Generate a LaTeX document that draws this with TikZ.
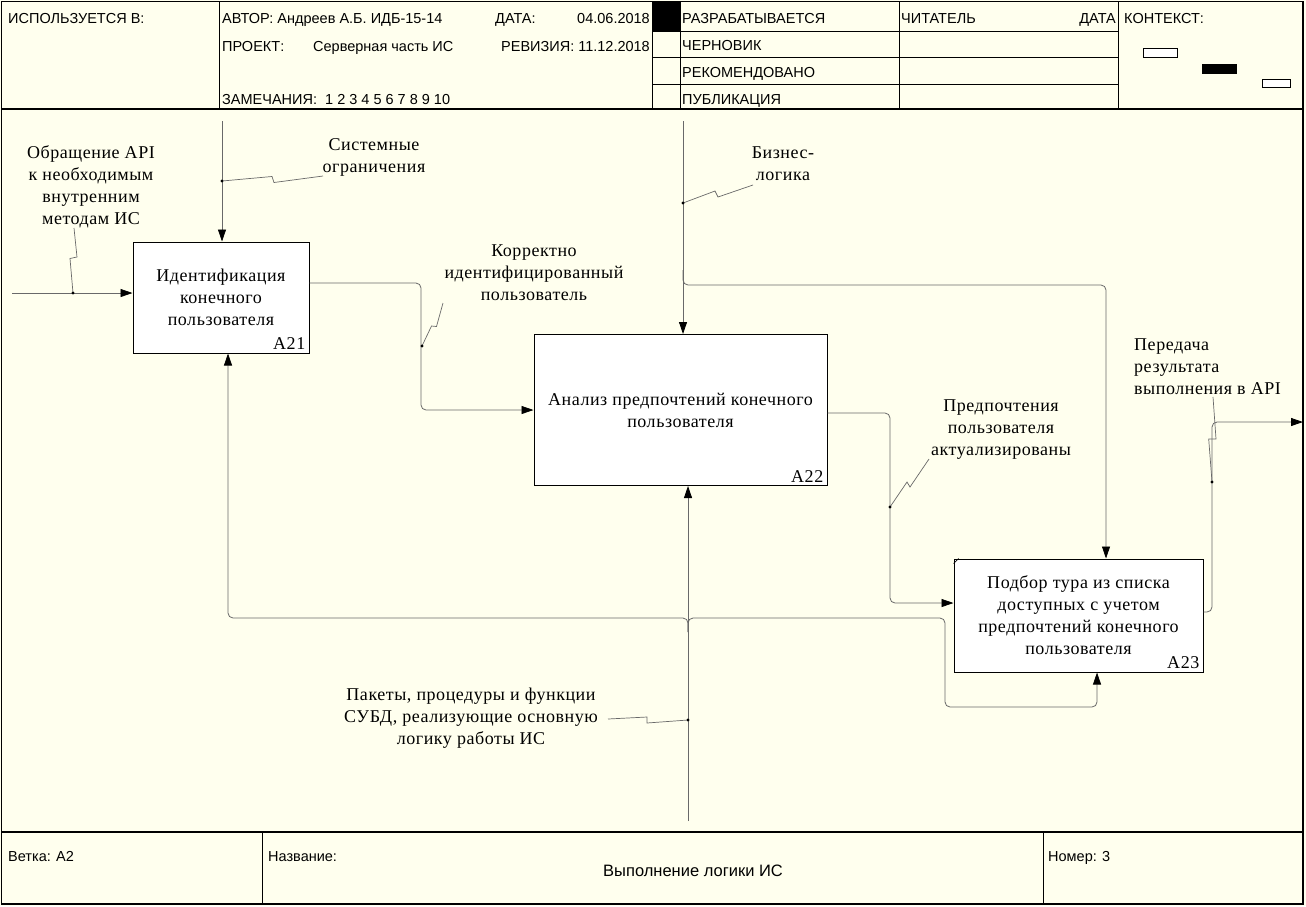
\documentclass[tikz,border=0pt]{standalone}
\usepackage{fontspec}
\setmainfont{Liberation Serif}
\newfontfamily\hdrfont{Liberation Sans}
\newfontfamily\lblfam[LetterSpace=3]{Liberation Serif}
\usetikzlibrary{arrows.meta,calc}

\definecolor{paper}{RGB}{255,255,238}
\definecolor{wire}{RGB}{105,105,105}

\newcommand{\lblfont}{\lblfam\fontsize{18}{22}\selectfont}
\newcommand{\hdrsize}{\hdrfont\fontsize{14.5}{16}\selectfont}

\tikzset{
  frameline/.style={draw=black, line width=1.4pt},
  cellline/.style={draw=black, line width=0.9pt},
  hdr/.style={font=\hdrsize, inner sep=0pt, anchor=base west},
  fnbox/.style={draw=black, fill=white, line width=1pt, inner sep=0pt,
                align=center, font=\lblfont},
  boxnum/.style={font=\lblfont, inner sep=0pt, anchor=base east},
  lbl/.style={align=center, font=\lblfont, inner sep=0pt},
  wireline/.style={draw=wire, line width=0.8pt, rounded corners=5pt},
  arr/.style={wireline, -{Triangle[length=12pt,width=8pt,color=black]}},
  squig/.style={draw=wire, line width=0.7pt},
  jdot/.style={circle, fill=black, inner sep=0pt, minimum size=3.2pt},
  ctxbox/.style={draw=black, line width=0.8pt},
}

\begin{document}
\begin{tikzpicture}[x=1pt, y=-1pt]
\useasboundingbox (0,0) rectangle (1306,906);
\fill[paper] (0,0) rectangle (1306,906);

% ---------- title block ----------
\fill[black] (652,1.5) rectangle (680,31);
\draw[cellline] (219,1.5) -- (219,109);
\draw[cellline] (652,1.5) -- (652,109);
\draw[cellline] (680,1.5) -- (680,109);
\draw[cellline] (899,1.5) -- (899,109);
\draw[cellline] (1118,1.5) -- (1118,109);
\draw[cellline] (652,31) -- (1118,31);
\draw[cellline] (652,57.5) -- (1118,57.5);
\draw[cellline] (652,84) -- (1118,84);
\draw[frameline] (1.5,109) -- (1303,109);

\node[hdr] (usedin) at (8,23) {ИСПОЛЬЗУЕТСЯ В:};
\node[hdr] (author) at (222,23) {АВТОР: Андреев А.Б. ИДБ-15-14};
\node[hdr] (datek) at (495,23) {ДАТА:};
\node[hdr, anchor=base east] (datev) at (650,23) {04.06.2018};
\node[hdr] (projk) at (222,51) {ПРОЕКТ:};
\node[hdr] (projv) at (313,51) {Серверная часть ИС};
\node[hdr, anchor=base east] (rev) at (650,51) {РЕВИЗИЯ: 11.12.2018};
\node[hdr] (notes) at (222,104) {ЗАМЕЧАНИЯ:\ \ 1 2 3 4 5 6 7 8 9 10};
\node[hdr] (st1) at (682,23) {РАЗРАБАТЫВАЕТСЯ};
\node[hdr] (st2) at (682,50) {ЧЕРНОВИК};
\node[hdr] (st3) at (682,77) {РЕКОМЕНДОВАНО};
\node[hdr] (st4) at (682,104) {ПУБЛИКАЦИЯ};
\node[hdr] (reader) at (901,23) {ЧИТАТЕЛЬ};
\node[hdr, anchor=base east] (rdate) at (1116,23) {ДАТА};
\node[hdr] (ctx) at (1124,23) {КОНТЕКСТ:};
\draw[ctxbox, fill=white] (1143,48) rectangle (1177,57);
\draw[ctxbox, fill=black] (1202,64) rectangle (1236,73);
\draw[ctxbox, fill=white] (1262,79) rectangle (1290,87);

% ---------- footer ----------
\draw[frameline] (1.5,832) -- (1303,832);
\draw[cellline] (262,832) -- (262,904);
\draw[cellline] (1043,832) -- (1043,904);
\node[hdr] (node) at (8,861) {Ветка: А2};
\node[hdr] (titlek) at (268,861) {Название:};
\node[hdr, anchor=base, font=\hdrfont\fontsize{16.5}{18}\selectfont] (titlev) at (693,876) {Выполнение логики ИС};
\node[hdr] (number) at (1048,861) {Номер: 3};

% ---------- activity boxes ----------
\node[fnbox, minimum width=176, minimum height=111] (A21) at (221,297.5)
  {Идентификация\\конечного\\пользователя};
\node[fnbox, minimum width=293, minimum height=151] (A22) at (680.5,410)
  {Анализ предпочтений конечного\\пользователя};
\node[fnbox, minimum width=249, minimum height=113] (A23) at (1078.5,615.5)
  {Подбор тура из списка\\доступных с учетом\\предпочтений конечного\\пользователя};
\node[boxnum] (n21) at ([xshift=-4pt, yshift=4pt]A21.south east) {A21};
\node[boxnum] (n22) at ([xshift=-4pt, yshift=4pt]A22.south east) {A22};
\node[boxnum] (n23) at ([xshift=-4pt, yshift=4pt]A23.south east) {A23};
\draw[black, line width=0.7pt] ([yshift=-5pt]A23.north west) -- ([xshift=5pt]A23.north west);

% ---------- wire end points and bends ----------
\coordinate (inA) at (12,293);
\coordinate (ctlA) at (222,121);
\coordinate (ctlB) at (683,121);
\coordinate (mechB) at (688,821);
\coordinate (outR) at (1303,422);
\coordinate (k1) at (421,283);
\coordinate (k2) at (890,413);
\coordinate (k3) at (890,603);
\coordinate (k4) at (1212,612);
\coordinate (k5) at (1212,422);
\coordinate (k6) at (683,270);
\coordinate (k7) at (1106,285);
\coordinate (m1) at (688,632);
\coordinate (m2) at (228,618);
\coordinate (m3) at (945,618);
\coordinate (m4) at (1097,707);

% ---------- arrows ----------
\draw[arr] (inA) -- (inA -| A21.west);
\draw[arr] (ctlA) -- (ctlA |- A21.north);
\draw[arr] (A21.east |- k1) -- (k1) -- (k1 |- A22.west) -- (A22.west);
\draw[arr] (ctlB) -- (ctlB |- A22.north);
\draw[arr] (k6) -- (k6 |- k7) -- (k7) -- (k7 |- A23.north);
\draw[arr] (A22.east |- k2) -- (k2) -- (k3) -- (k3 -| A23.west);
\draw[arr] (k4 -| A23.east) -- (k4) -- (k5) -- (outR);
\draw[arr] (mechB) -- (mechB |- A22.south);
\draw[arr] (m1) -- (m1 |- m2) -- (m2) -- (m2 |- A21.south);
\draw[arr] (m1) -- (m1 |- m2) -- (m3) -- (m3 |- m4) -- (m4) -- (m4 |- A23.south);

% ---------- arrow labels ----------
\node[lbl] (tIn) at (91,187) {Обращение API\\к необходимым\\внутренним\\методам ИС};
\node[lbl] (tCtl) at (374,157) {Системные\\ограничения};
\node[lbl] (tMid) at (534,273) {Корректно\\идентифицированный\\пользователь};
\node[lbl] (tBiz) at (783,164) {Бизнес-\\логика};
\node[lbl] (tPref) at (1001,430) {Предпочтения\\пользователя\\актуализированы};
\node[lbl, align=left, anchor=west] (tOut) at (1134,367) {Передача\\результата\\выполнения в API};
\node[lbl] (tMech) at (471,718) {Пакеты, процедуры и функции\\СУБД, реализующие основную\\логику работы ИС};

% ---------- label leaders ----------
\coordinate (d1) at (73,293);
\coordinate (d2) at (222,181);
\coordinate (d3) at (422,346);
\coordinate (d4) at (683,203);
\coordinate (d5) at (890,507);
\coordinate (d6) at (1212,482);
\coordinate (d7) at (688,720);
\draw[squig] (74,228) -- (77,257) -- (70,258.5) -- (d1);
\draw[squig] (323,176) -- (274,182.5) -- (272,176.5) -- (d2);
\draw[squig] (443,303) -- (436.5,326.5) -- (431.5,326) -- (d3);
\draw[squig] (753,185) -- (718,197) -- (715,191) -- (d4);
\draw[squig] (929,459) -- (910,487) -- (907,482) -- (d5);
\draw[squig] (1213,397) -- (1216,439) -- (1208.7,439) -- (d6);
\draw[squig] (608,719) -- (647,717) -- (647,723) -- (d7);
\foreach \d in {d1,d2,d3,d4,d5,d6,d7} \node[jdot] at (\d) {};

% ---------- outer frame ----------
\draw[frameline] (1.5,1.5) rectangle (1303,904);
\end{tikzpicture}
\end{document}
